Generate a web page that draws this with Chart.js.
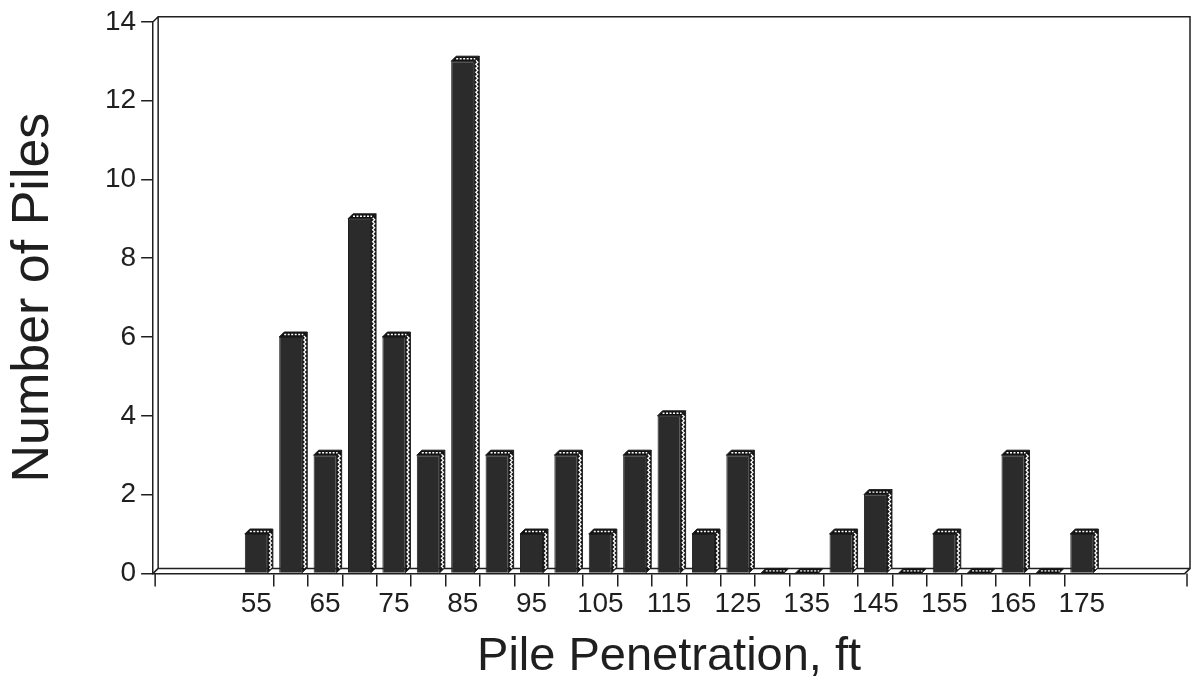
<!DOCTYPE html>
<html>
<head>
<meta charset="utf-8">
<script src="https://cdn.jsdelivr.net/npm/chart.js@4.4.1/dist/chart.umd.min.js"></script>
<style>
  html, body { margin: 0; padding: 0; background: #fff; }
  #wrap { width: 1199px; height: 692px; }
</style>
</head>
<body>
<div id="wrap"><canvas id="chart"></canvas></div>
<script>
// centre of each 5 ft penetration bin
const penetration = [55, 60, 65, 70, 75, 80, 85, 90, 95, 100, 105, 110, 115, 120, 125,
                     130, 135, 140, 145, 150, 155, 160, 165, 170, 175];
const pileCounts = [1, 6, 3, 9, 6, 3, 13, 3, 1, 3, 1, 3, 4, 1, 3,
                    0, 0, 1, 2, 0, 1, 0, 3, 0, 1];
const xTickLabels = [55, 65, 75, 85, 95, 105, 115, 125, 135, 145, 155, 165, 175];
const yTickLabels = [0, 2, 4, 6, 8, 10, 12, 14];

const INK = '#1f1f1f';
const FACE = '#2b2b2b';
const DEPTH = 5;
const FONT = "'Liberation Sans', Arial, Helvetica, sans-serif";
Chart.defaults.font.family = FONT;
Chart.defaults.color = INK;

// back wall + floor of the pseudo-3D box
const frame3d = {
  id: 'frame3d',
  beforeDatasetsDraw(chart) {
    const { ctx, chartArea: a } = chart;
    ctx.save();
    ctx.strokeStyle = INK;
    ctx.lineWidth = 1.5;
    ctx.beginPath();
    ctx.moveTo(a.left, a.top);
    ctx.lineTo(a.left + DEPTH, a.top - DEPTH);
    ctx.lineTo(a.right + DEPTH, a.top - DEPTH);
    ctx.lineTo(a.right + DEPTH, a.bottom - DEPTH);
    ctx.lineTo(a.left + DEPTH, a.bottom - DEPTH);
    ctx.lineTo(a.left + DEPTH, a.top - DEPTH);
    ctx.moveTo(a.left, a.bottom);
    ctx.lineTo(a.left + DEPTH, a.bottom - DEPTH);
    ctx.moveTo(a.right, a.bottom);
    ctx.lineTo(a.right + DEPTH, a.bottom - DEPTH);
    // axis end ticks
    ctx.moveTo(a.left + 2, a.bottom);
    ctx.lineTo(a.left + 2, a.bottom + 13);
    ctx.moveTo(a.right + 2, a.bottom);
    ctx.lineTo(a.right + 2, a.bottom + 13);
    ctx.stroke();
    ctx.restore();
  }
};

// side and top faces of each bar
const bar3d = {
  id: 'bar3d',
  afterDatasetsDraw(chart) {
    const ctx = chart.ctx;
    chart.getDatasetMeta(0).data.forEach(bar => {
      const { x, y, base, width } = bar.getProps(['x', 'y', 'base', 'width'], true);
      const l = x - width / 2, r = x + width / 2;
      ctx.save();
      ctx.lineWidth = 1;
      ctx.strokeStyle = INK;

      // side face
      if (base - y > 1) {
        ctx.beginPath();
        ctx.moveTo(r, y);
        ctx.lineTo(r + DEPTH, y - DEPTH);
        ctx.lineTo(r + DEPTH, base - DEPTH);
        ctx.lineTo(r, base);
        ctx.closePath();
        ctx.fillStyle = '#111';
        ctx.fill();
        ctx.stroke();
        ctx.beginPath();
        ctx.strokeStyle = '#fff';
        ctx.lineWidth = 1.3;
        let k = 0;
        for (let t = y - 1; t < base - 3; t += 2, k++) {
          const px = r + (k % 2 ? 3.6 : 1.6);
          if (k === 0) ctx.moveTo(px, t); else ctx.lineTo(px, t);
        }
        ctx.stroke();
      }

      // top face
      ctx.beginPath();
      ctx.moveTo(l, y);
      ctx.lineTo(l + DEPTH, y - DEPTH);
      ctx.lineTo(r + DEPTH, y - DEPTH);
      ctx.lineTo(r, y);
      ctx.closePath();
      ctx.fillStyle = '#111';
      ctx.fill();
      ctx.strokeStyle = INK;
      ctx.lineWidth = 1;
      ctx.stroke();
      ctx.beginPath();
      ctx.setLineDash([2, 1.5]);
      ctx.strokeStyle = '#fff';
      ctx.lineWidth = 1.4;
      ctx.moveTo(l + 5, y - 2.5);
      ctx.lineTo(r + 1, y - 2.5);
      ctx.stroke();
      ctx.restore();
    });
  }
};

new Chart(document.getElementById('chart'), {
  type: 'bar',
  data: {
    datasets: [{
      data: penetration.map((p, i) => ({ x: p, y: pileCounts[i] })),
      backgroundColor: FACE,
      borderColor: INK,
      borderWidth: 1,
      barPercentage: 0.67,
      categoryPercentage: 1
    }]
  },
  options: {
    responsive: true,
    maintainAspectRatio: false,
    animation: false,
    layout: { padding: { top: 19, right: 14, left: 0, bottom: 0 } },
    plugins: {
      legend: { display: false },
      tooltip: { enabled: false }
    },
    scales: {
      x: {
        type: 'linear',
        min: 40,
        max: 190,
        offset: false,
        afterBuildTicks: s => { s.ticks = penetration.map(v => ({ value: v })); },
        ticks: {
          callback: v => xTickLabels.includes(v) ? String(v) : '',
          font: { size: 28 },
          color: INK,
          padding: 1,
          maxRotation: 0,
          autoSkip: false
        },
        grid: {
          offset: true,
          drawOnChartArea: false,
          tickLength: 13,
          lineWidth: 1.5,
          color: c => (c.index > 0 && c.index < penetration.length) ? INK : 'rgba(0,0,0,0)'
        },
        border: { color: INK, width: 1.5 },
        title: {
          display: true,
          text: 'Pile Penetration, ft',
          font: { size: 47, lineHeight: 1 },
          color: INK,
          padding: { top: 12, bottom: 11 }
        }
      },
      y: {
        min: 0,
        max: 14,
        afterBuildTicks: s => { s.ticks = yTickLabels.map(v => ({ value: v })); },
        ticks: { font: { size: 28 }, color: INK, padding: 5 },
        grid: { drawOnChartArea: false, tickLength: 12, lineWidth: 1.5, color: INK },
        border: { color: INK, width: 1.5 },
        title: {
          display: true,
          text: 'Number of Piles',
          font: { size: 52, lineHeight: 1 },
          color: INK,
          padding: { top: 8, bottom: 40 }
        }
      }
    }
  },
  plugins: [frame3d, bar3d]
});
</script>
</body>
</html>
